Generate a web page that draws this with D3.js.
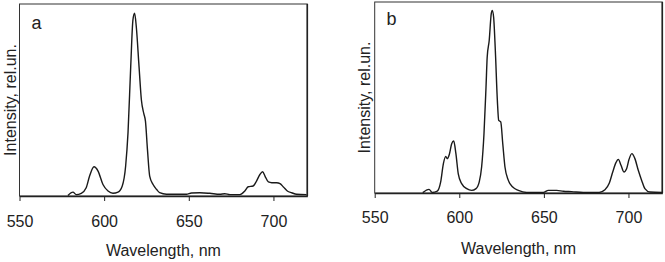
<!DOCTYPE html>
<html>
<head>
<meta charset="utf-8">
<script src="https://cdn.jsdelivr.net/npm/d3@7"></script>
<style>
  body { margin: 0; background: #fff; }
  svg text { font-family: Arial, "Liberation Sans", sans-serif; fill: #222; }
</style>
</head>
<body>
<svg id="chart" width="665" height="262"></svg>
<script>
// --- data (intensity in % of the frame height) ---
const tickValues = [550, 600, 650, 700];

const waveA = [578.6, 581.6, 583.5, 586.5, 589.4, 591.4, 594, 596.4, 599.3, 602.3, 605.2, 608.2,
  610.7, 612.7, 614.1, 615.7, 617, 618, 619, 620.6, 622, 623.4, 624.4, 625.6, 626.9, 628.9,
  630.9, 632.8, 636.8, 648.6, 651.6, 656.5, 662.4, 668.3, 671.3, 674.3, 680.2, 683.1, 685.1,
  688, 690, 692, 693.6, 695, 697, 699, 701.9, 703.9, 705.9, 708.2, 710.8, 713.7, 719.6];
const intA = [0.3, 2, 0.7, 1.4, 4.3, 10.4, 15.2, 13, 6, 2.6, 1.4, 2,
  5.2, 15.6, 33, 67.5, 91.7, 95.2, 88, 67.5, 50, 43, 39, 24, 10.4, 6,
  3.5, 1.7, 0.9, 0.9, 1.6, 1.7, 1.4, 0.9, 1.2, 0.7, 0.7, 2.6, 4.8,
  5.2, 7.8, 11.2, 12.6, 10.4, 7.3, 6.9, 6.9, 6.4, 4.7, 2.6, 1.7, 0.9, 0.7];

const waveB = [578.4, 582.1, 584, 587, 589, 590.6, 592, 592.9, 594.1, 595.5, 596.7, 598, 599.4,
  601.4, 604.4, 607.3, 609.9, 611.8, 613.2, 614.6, 615.8, 616.5, 617.7, 618.9, 619.5, 620.3,
  621.3, 622.5, 623.3, 624.5, 625.7, 627, 629, 631.6, 634.9, 639.8, 649.7, 652.6, 657.6,
  661.5, 666.4, 673.3, 682.7, 686.1, 688.7, 690.7, 692.6, 694, 695.6, 697.3, 698.9, 700.3,
  702, 703.8, 705.8, 707.8, 709.7, 712.7, 720];
const intB = [0.2, 1.9, 0.3, 1, 5.8, 15.4, 19.2, 18, 20.2, 25.8, 27.2, 20.6, 10,
  4.9, 2.3, 1.4, 2.3, 5.8, 13.6, 31, 55.5, 71.2, 80, 93.9, 95.6, 92,
  74.7, 48.5, 38, 37.2, 25.8, 13.6, 6.6, 3.1, 1.4, 0.3, 0.3, 1.4, 1.4,
  0.9, 0.7, 0.3, 0.3, 1.7, 5.2, 11, 15.9, 17.6, 14.5, 11, 12.7, 17.5,
  20.6, 18, 11.9, 6.6, 2.3, 0.5, 0.3];

const svg = d3.select("#chart");

function drawPanel(cfg) {
  const x = d3.scaleLinear().domain([550, 720]).range([cfg.left, cfg.right]);
  const y = d3.scaleLinear().domain([0, 100]).range([cfg.bottom, cfg.top]);

  const g = svg.append("g");

  // frame
  g.append("rect")
    .attr("x", cfg.left)
    .attr("y", cfg.top)
    .attr("width", cfg.right - cfg.left)
    .attr("height", cfg.bottom - cfg.top)
    .attr("fill", "none")
    .attr("stroke", "#333")
    .attr("stroke-width", 1);
  // right edge looks heavier in the original
  g.append("line")
    .attr("x1", cfg.right).attr("x2", cfg.right)
    .attr("y1", cfg.top).attr("y2", cfg.bottom)
    .attr("stroke", "#222").attr("stroke-width", 1.6);

  // x axis
  const ax = g.append("g")
    .attr("transform", "translate(0," + cfg.bottom + ")")
    .call(d3.axisBottom(x).tickValues(tickValues).tickSize(5).tickPadding(0).tickSizeOuter(0));
  ax.select(".domain").attr("stroke", "#222").attr("stroke-width", 1.3);
  ax.selectAll(".tick line").attr("stroke", "#222");
  ax.selectAll(".tick text")
    .attr("font-size", 16)
    .attr("dy", null)
    .attr("y", cfg.tickBase - cfg.bottom)
    .style("fill", "#222");

  // spectrum
  const line = d3.line()
    .x((d) => x(d[0]))
    .y((d) => y(d[1]))
    .curve(d3.curveMonotoneX);

  g.append("path")
    .datum(d3.zip(cfg.wave, cfg.intensity))
    .attr("d", line)
    .attr("fill", "none")
    .attr("stroke", "#1a1a1a")
    .attr("stroke-width", 1.4);

  // labels
  g.append("text")
    .text("Wavelength, nm")
    .attr("x", (cfg.left + cfg.right) / 2)
    .attr("y", cfg.xLabelBase)
    .attr("text-anchor", "middle")
    .attr("font-size", 16);

  g.append("text")
    .text("Intensity, rel.un.")
    .attr("transform", "translate(" + cfg.yLabelX + "," + (cfg.top + cfg.bottom) / 2 + ") rotate(-90)")
    .attr("text-anchor", "middle")
    .attr("font-size", 16);

  g.append("text")
    .text(cfg.letter)
    .attr("x", cfg.letterX)
    .attr("y", cfg.letterY)
    .attr("font-size", 18);
}

drawPanel({
  wave: waveA, intensity: intA, letter: "a",
  left: 19.5, right: 307.3, top: 4, bottom: 196,
  tickBase: 227, xLabelBase: 255.5, yLabelX: 15.5,
  letterX: 31.5, letterY: 28.5
});

drawPanel({
  wave: waveB, intensity: intB, letter: "b",
  left: 374.7, right: 662.3, top: 2, bottom: 193,
  tickBase: 222.5, xLabelBase: 253.5, yLabelX: 370,
  letterX: 386.5, letterY: 25
});
</script>
</body>
</html>
